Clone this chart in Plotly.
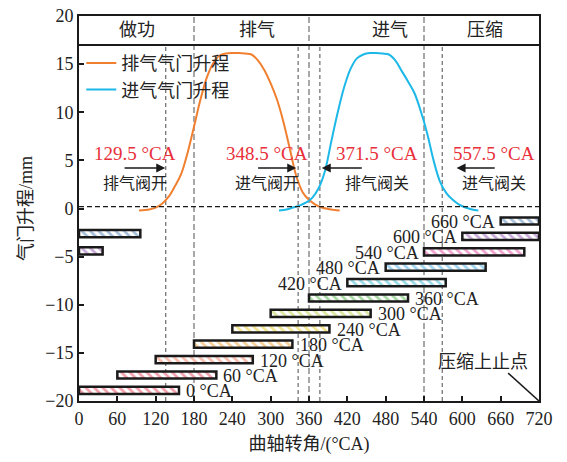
import plotly.graph_objects as go

# ---------------- data ----------------
exh_ca = [94, 110, 120, 130, 140, 150, 160, 170, 180, 190, 200, 210, 220, 230, 240, 250, 260, 270,
          280, 290, 300, 310, 320, 330, 340, 350, 360, 370, 380, 390, 400, 408]
exh_lift = [-0.2, -0.1, 0.1, 0.5, 1.2, 2.3, 3.6, 5.8, 8.5, 11.3, 13.6, 15.1, 15.9, 16.1, 16.15, 16.15, 16.1, 16.0,
            15.4, 14.4, 13.0, 11.3, 9.0, 6.2, 3.4, 1.7, 0.9, 0.4, 0.1, -0.05, -0.15, -0.2]
int_ca = [313, 325, 335, 345, 355, 365, 375, 385, 395, 405, 415, 425, 435, 445, 455, 465, 475, 485,
          495, 505, 515, 525, 535, 545, 555, 565, 575, 585, 595, 605, 615, 625]
int_lift = [-0.2, -0.1, 0.1, 0.3, 0.6, 1.1, 2.1, 3.9, 7.0, 10.0, 12.6, 14.5, 15.6, 16.0, 16.15, 16.15, 16.1, 16.0,
            15.4, 14.3, 13.2, 12.0, 10.1, 7.8, 5.0, 2.8, 1.6, 0.9, 0.4, 0.1, -0.1, -0.2]

bar_start = [0, 60, 120, 180, 240, 300, 360, 420, 480, 540, 600, 660]
bar_end = [156.5, 215, 272, 334, 392, 456.5, 515, 574, 636.5, 697, 720, 720]
bar_level = [-18.9, -17.3, -15.7, -14.1, -12.5, -10.9, -9.3, -7.7, -6.1, -4.5, -2.9, -1.3]
bar_labels = ["0 °CA", "60 °CA", "120 °CA", "180 °CA", "240 °CA", "300 °CA", "360 °CA",
              "420 °CA", "480 °CA", "540 °CA", "600 °CA", "660 °CA"]
bar_colors = ["#e8384f", "#e8405a", "#ef7a5a", "#f0a030", "#e8cc20", "#b4d040", "#50b048",
              "#30b4d0", "#40a8e0", "#e0409a", "#9050b0", "#4a7cb0"]
# wrapped parts past 720 °CA (drawn at the left)
wrap_end = [96, 37]
wrap_level = [-2.6, -4.4]
wrap_colors = ["#4a7cb0", "#9050b0"]

stroke_names = ["做功", "排气", "进气", "压缩"]
stroke_pos = [90, 278, 486, 635]
stroke_bounds = [180, 360, 540]
valve_lines = [135.7, 343, 377, 568.6]
valve_ca_text = ["129.5 °CA", "348.5 °CA", "371.5 °CA", "557.5 °CA"]
valve_event_text = ["排气阀开", "进气阀开", "排气阀关", "进气阀关"]
valve_text_x = [88, 295, 467, 650]
arrow_from = [69, 278, 445, 653]
arrow_to = [135, 340, 380, 591]

x_ticks = list(range(0, 721, 60))
y_ticks = list(range(-20, 21, 5))

FONT = "Liberation Serif, Noto Sans CJK SC, serif"

fig = go.Figure()

# bars
fig.add_trace(go.Bar(
    y=bar_level, x=[e - s for s, e in zip(bar_start, bar_end)], base=bar_start,
    orientation="h", width=0.75, showlegend=False, hoverinfo="skip",
    marker=dict(color="white", line=dict(color="#1a1a1a", width=2.5),
                pattern=dict(shape="\\", fgcolor=bar_colors, bgcolor="white", size=6, solidity=0.45)),
))
fig.add_trace(go.Bar(
    y=wrap_level, x=wrap_end, base=[0, 0],
    orientation="h", width=0.75, showlegend=False, hoverinfo="skip",
    marker=dict(color="white", line=dict(color="#1a1a1a", width=2.5),
                pattern=dict(shape="\\", fgcolor=wrap_colors, bgcolor="white", size=6, solidity=0.45)),
))

# lift curves
fig.add_trace(go.Scatter(x=exh_ca, y=exh_lift, mode="lines", name="排气气门升程",
                         line=dict(color="#f08030", width=2, shape="spline")))
fig.add_trace(go.Scatter(x=int_ca, y=int_lift, mode="lines", name="进气气门升程",
                         line=dict(color="#1cb8e8", width=2, shape="spline")))

shapes = []
for b in stroke_bounds:
    shapes.append(dict(type="line", x0=b, x1=b, y0=-20, y1=20, xref="x", yref="y",
                       line=dict(color="#a8a8a8", width=2, dash="6px,3px"), layer="below"))
for v in valve_lines:
    shapes.append(dict(type="line", x0=v, x1=v, y0=-20, y1=17, xref="x", yref="y",
                       line=dict(color="#777777", width=1.3, dash="4px,3px"), layer="below"))
shapes.append(dict(type="line", x0=0, x1=720, y0=17, y1=17, xref="x", yref="y",
                   line=dict(color="#1a1a1a", width=2)))
shapes.append(dict(type="line", x0=0, x1=720, y0=0.2, y1=0.2, xref="x", yref="y",
                   line=dict(color="#1a1a1a", width=1.3, dash="5px,3px")))
shapes.append(dict(type="line", x0=671.7, x1=720, y0=-17.1, y1=-20, xref="x", yref="y",
                   line=dict(color="#1a1a1a", width=1.5)))

annotations = []
for name, p in zip(stroke_names, stroke_pos):
    annotations.append(dict(x=p, y=18.5, text=name, showarrow=False,
                            font=dict(size=18, color="#222", family=FONT)))
for t, e, tx, a0, a1 in zip(valve_ca_text, valve_event_text, valve_text_x, arrow_from, arrow_to):
    annotations.append(dict(x=tx, y=5.7, text=t, showarrow=False,
                            font=dict(size=19, color="#e8303a", family=FONT)))
    annotations.append(dict(x=tx, y=2.6, text=e, showarrow=False,
                            font=dict(size=16, color="#222", family=FONT)))
    annotations.append(dict(x=a1, y=4.2, ax=a0, ay=4.2, axref="x", ayref="y", xref="x", yref="y",
                            text="", showarrow=True, arrowhead=2, arrowsize=1.2, arrowwidth=1.5,
                            arrowcolor="#1a1a1a"))
for s, e, lv, lab in zip(bar_start, bar_end, bar_level, bar_labels):
    if s <= 360:
        annotations.append(dict(x=e + 8, y=lv - 0.1, text=lab, showarrow=False, xanchor="left",
                                font=dict(size=18, color="#222", family=FONT)))
    else:
        annotations.append(dict(x=s - 5, y=lv - 0.1, text=lab, showarrow=False, xanchor="right",
                                font=dict(size=18, color="#222", family=FONT)))
annotations.append(dict(x=633, y=-15.9, text="压缩上止点", showarrow=False,
                        font=dict(size=18, color="#222", family=FONT)))

fig.update_layout(
    width=567, height=462,
    margin=dict(l=79, r=28, t=16, b=61, autoexpand=False),
    paper_bgcolor="white", plot_bgcolor="white",
    font=dict(family=FONT, size=18, color="#222"),
    barmode="overlay",
    shapes=shapes, annotations=annotations,
    legend=dict(x=0.005, y=0.925, xanchor="left", yanchor="top", bgcolor="rgba(0,0,0,0)",
                font=dict(size=18, family=FONT), tracegroupgap=0, itemwidth=30),
    xaxis=dict(range=[0, 720], tickvals=x_ticks, ticks="inside", ticklen=5, tickwidth=1.5,
               tickcolor="#1a1a1a", showline=True, linecolor="#1a1a1a", linewidth=2, mirror=True,
               showgrid=False, zeroline=False, tickfont=dict(size=18, family=FONT), automargin=False,
               ticklabeloverflow="allow",
               title=dict(text="曲轴转角/(°CA)", font=dict(size=18, family=FONT), standoff=10)),
    yaxis=dict(range=[-20, 20], tickvals=y_ticks, ticks="inside", ticklen=5, tickwidth=1.5,
               tickcolor="#1a1a1a", showline=True, linecolor="#1a1a1a", linewidth=2, mirror=True,
               showgrid=False, zeroline=False, tickfont=dict(size=18, family=FONT), automargin=False,
               ticklabeloverflow="allow",
               title=dict(text="气门升程/mm", font=dict(size=18, family=FONT), standoff=8)),
)

fig.write_html("out.html", config={"displayModeBar": False},
               post_script="document.body.style.margin='0px';")
